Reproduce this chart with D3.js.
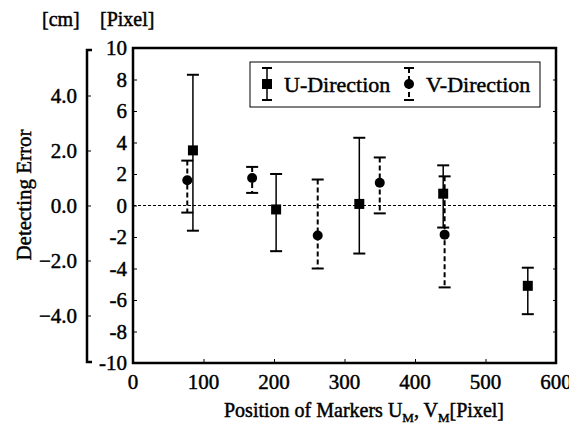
<!DOCTYPE html>
<html>
<head>
<meta charset="utf-8">
<script src="https://cdn.jsdelivr.net/npm/d3@7"></script>
<style>
  body { margin: 0; background: #fff; }
  text { font-family: "Liberation Serif", "DejaVu Serif", serif; fill: #000; stroke: #000; stroke-width: 0.45px; }
</style>
</head>
<body>
<script>
// U-direction (squares, solid bars)
var uX = [85, 203, 321, 440, 560];
var uY = [3.5, -0.25, 0.1, 0.75, -5.1];
var uTop = [8.3, 2.0, 4.3, 2.55, -3.95];
var uBot = [-1.6, -2.9, -3.05, -1.4, -6.9];

// V-direction (circles, dashed bars)
var vX = [77, 169, 262, 350, 442];
var vY = [1.6, 1.75, -1.9, 1.45, -1.85];
var vTop = [2.85, 2.45, 1.65, 3.05, 1.85];
var vBot = [-0.45, 0.8, -4.0, -0.5, -5.2];

var xTicks = [0, 100, 200, 300, 400, 500, 600];
var yTicks = [10, 8, 6, 4, 2, 0, -2, -4, -6, -8, -10];
var cmTicks = [4.0, 2.0, 0.0, -2.0, -4.0];
var cmPerPixelUnit = 1 / 1.746;

var W = 569, H = 430;
var pL = 133, pR = 556, pT = 48, pB = 363;

var svg = d3.select('body').append('svg')
  .attr('width', W)
  .attr('height', H);

var x = d3.scaleLinear().domain([0, 600]).range([pL, pR]);
var y = d3.scaleLinear().domain([-10, 10]).range([pB, pT]);
var yCm = d3.scaleLinear()
  .domain([-10 * cmPerPixelUnit, 10 * cmPerPixelUnit])
  .range([pB, pT]);

// zero line
svg.append('line')
  .attr('x1', pL).attr('x2', pR)
  .attr('y1', y(0)).attr('y2', y(0))
  .attr('stroke', '#000').attr('stroke-width', 1)
  .attr('stroke-dasharray', '3,2');

// frame
svg.append('rect')
  .attr('x', pL).attr('y', pT)
  .attr('width', pR - pL).attr('height', pB - pT)
  .attr('fill', 'none').attr('stroke', '#000').attr('stroke-width', 2.5);

// pixel y axis
var yAxis = svg.append('g')
  .attr('transform', 'translate(' + pL + ',0)')
  .call(d3.axisRight(y).tickValues(yTicks).tickSize(4).tickFormat(''));
yAxis.select('.domain').remove();
svg.append('g').selectAll('text')
  .data(yTicks)
  .enter().append('text')
  .attr('x', pL - 6)
  .attr('y', function(d) { return y(d); })
  .attr('dy', '0.35em')
  .attr('text-anchor', 'end')
  .attr('font-size', 21)
  .text(function(d) { return d; });

// x axis
var xAxis = svg.append('g')
  .attr('transform', 'translate(0,' + pB + ')')
  .call(d3.axisTop(x).tickValues(xTicks).tickSize(4).tickFormat(''));
xAxis.select('.domain').remove();
svg.append('g').selectAll('text')
  .data(xTicks)
  .enter().append('text')
  .attr('x', function(d) { return x(d); })
  .attr('y', pB + 26)
  .attr('text-anchor', 'middle')
  .attr('font-size', 21)
  .text(function(d) { return d; });

// right side small ticks
var rAxis = svg.append('g')
  .attr('transform', 'translate(' + pR + ',0)')
  .call(d3.axisLeft(y).tickValues(yTicks).tickSize(3).tickFormat(''));
rAxis.select('.domain').remove();

// cm axis (bracket)
var cmX = 87;
svg.append('path')
  .attr('d', 'M' + (cmX + 5) + ',' + (pT + 2) + 'H' + cmX + 'V' + (pB - 1) + 'H' + (cmX + 5))
  .attr('fill', 'none').attr('stroke', '#000').attr('stroke-width', 2.5);
var cmAxis = svg.append('g')
  .attr('transform', 'translate(' + cmX + ',0)')
  .call(d3.axisRight(yCm).tickValues(cmTicks).tickSize(4).tickFormat(''));
cmAxis.select('.domain').remove();
svg.append('g').selectAll('text')
  .data(cmTicks)
  .enter().append('text')
  .attr('x', cmX - 10)
  .attr('y', function(d) { return yCm(d); })
  .attr('dy', '0.35em')
  .attr('text-anchor', 'end')
  .attr('font-size', 21)
  .text(function(d) { return d3.format('.1f')(d); });

// unit labels
svg.append('text').attr('x', 42).attr('y', 26).attr('font-size', 20).text('[cm]');
svg.append('text').attr('x', 100).attr('y', 26).attr('font-size', 20).text('[Pixel]');

// axis titles
svg.append('text')
  .attr('transform', 'translate(31,195) rotate(-90)')
  .attr('text-anchor', 'middle')
  .attr('font-size', 21)
  .text('Detecting Error');

var xt = svg.append('text')
  .attr('x', 364).attr('y', 417)
  .attr('text-anchor', 'middle')
  .attr('font-size', 20);
xt.append('tspan').text('Position of Markers U');
xt.append('tspan').attr('font-size', 13).attr('dy', 5).text('M');
xt.append('tspan').attr('dy', -5).text(', V');
xt.append('tspan').attr('font-size', 13).attr('dy', 5).text('M');
xt.append('tspan').attr('dy', -5).text('[Pixel]');

function errorBars(g, xs, ys, tops, bots, dashed) {
  var grp = g.append('g');
  xs.forEach(function(xv, i) {
    var cx = x(xv);
    grp.append('line')
      .attr('x1', cx).attr('x2', cx)
      .attr('y1', y(tops[i])).attr('y2', y(bots[i]))
      .attr('stroke', '#000').attr('stroke-width', dashed ? 2 : 1.5)
      .attr('stroke-dasharray', dashed ? '5,3' : null);
    [tops[i], bots[i]].forEach(function(v) {
      grp.append('line')
        .attr('x1', cx - 6).attr('x2', cx + 6)
        .attr('y1', y(v)).attr('y2', y(v))
        .attr('stroke', '#000').attr('stroke-width', 2);
    });
  });
}

errorBars(svg, vX, vY, vTop, vBot, true);
errorBars(svg, uX, uY, uTop, uBot, false);

svg.append('g').selectAll('circle')
  .data(vX)
  .enter().append('circle')
  .attr('cx', function(d) { return x(d); })
  .attr('cy', function(d, i) { return y(vY[i]); })
  .attr('r', 5)
  .attr('fill', '#000');

svg.append('g').selectAll('rect')
  .data(uX)
  .enter().append('rect')
  .attr('x', function(d) { return x(d) - 5; })
  .attr('y', function(d, i) { return y(uY[i]) - 5; })
  .attr('width', 10).attr('height', 10)
  .attr('fill', '#000');

// legend
var lg = svg.append('g');
lg.append('rect')
  .attr('x', 250).attr('y', 62)
  .attr('width', 290).attr('height', 45)
  .attr('fill', '#fff').attr('stroke', '#000').attr('stroke-width', 1);
function legendItem(lx, dashed, shape, label) {
  var yc = 84;
  lg.append('line')
    .attr('x1', lx).attr('x2', lx).attr('y1', yc - 16).attr('y2', yc + 16)
    .attr('stroke', '#000').attr('stroke-width', dashed ? 2 : 1.5)
    .attr('stroke-dasharray', dashed ? '5,3' : null);
  [yc - 16, yc + 16].forEach(function(v) {
    lg.append('line').attr('x1', lx - 5).attr('x2', lx + 5).attr('y1', v).attr('y2', v)
      .attr('stroke', '#000').attr('stroke-width', 2);
  });
  if (shape === 'square') {
    lg.append('rect').attr('x', lx - 5).attr('y', yc - 5).attr('width', 10).attr('height', 10).attr('fill', '#000');
  } else {
    lg.append('circle').attr('cx', lx).attr('cy', yc).attr('r', 5).attr('fill', '#000');
  }
  lg.append('text').attr('x', lx + 17).attr('y', yc).attr('dy', '0.35em')
    .attr('font-size', 22).text(label);
}
legendItem(267, false, 'square', 'U-Direction');
legendItem(409, true, 'circle', 'V-Direction');
</script>
</body>
</html>
